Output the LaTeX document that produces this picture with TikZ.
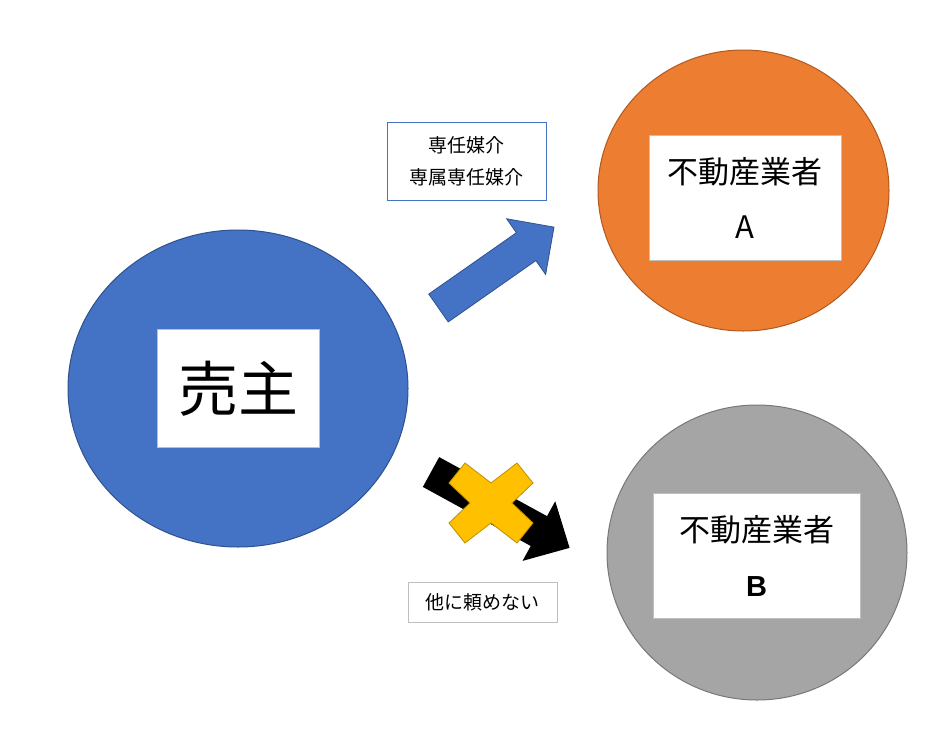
\documentclass[tikz,border=0pt]{standalone}
\usepackage{fontspec}
\setmainfont{Noto Sans CJK JP}
\newfontfamily\latinfont{Liberation Sans}
\usetikzlibrary{shapes.geometric}
\definecolor{SellerBlue}{HTML}{4472C4}
\definecolor{SellerEdge}{HTML}{2F528F}
\definecolor{AgentOrange}{HTML}{ED7D31}
\definecolor{OrangeEdge}{HTML}{AE5A21}
\definecolor{AgentGray}{HTML}{A5A5A5}
\definecolor{GrayEdge}{HTML}{787878}
\definecolor{CrossYellow}{HTML}{FFC000}
\definecolor{CrossEdge}{HTML}{BF9000}
\definecolor{BoxGray}{HTML}{BFBFBF}
\begin{document}
\begin{tikzpicture}[x=1pt, y=-1pt,
    party/.style={ellipse, line width=1pt, inner sep=0pt},
    namebox/.style={draw=BoxGray, fill=white, line width=0.8pt, align=center, inner sep=0pt},
    notebox/.style={fill=white, line width=0.8pt, align=center, inner sep=0pt, font=\fontsize{19}{32}\selectfont},
    blockarrow/.style={line width=0.8pt, line join=miter}
]
\path[use as bounding box, fill=white] (0,0) rectangle (951,737);
\node[party, fill=SellerBlue, draw=SellerEdge, minimum width=340, minimum height=317] (seller) at (238,388.5) {};
\node[party, fill=AgentOrange, draw=OrangeEdge, minimum width=291, minimum height=281] (agentA) at (743.5,190.5) {};
\node[party, fill=AgentGray, draw=GrayEdge, minimum width=300, minimum height=295] (agentB) at (757,552.5) {};
\node[namebox, minimum width=162, minimum height=118, font=\fontsize{60}{62}\selectfont] (sellerbox) at (seller) {売主};
\node[namebox, minimum width=192, minimum height=125, font=\fontsize{31}{55}\selectfont] (boxA) at (745,197.5) {不動産業者\\A};
\node[namebox, minimum width=207, minimum height=125, font=\fontsize{31}{55}\selectfont] (boxB) at (756.5,555.5) {不動産業者\\{\latinfont\fontsize{29}{55}\selectfont\bfseries B}};
\node[notebox, draw=SellerBlue, minimum width=159, minimum height=78] (exclusive) at (466.5,161) {専任媒介\\専属専任媒介};
\node[notebox, draw=BoxGray, minimum width=149, minimum height=40] (nootherbox) at (482.5,602) {他に頼めない};
\begin{scope}[shift={(438.5,308)}, rotate=35]
  \draw[blockarrow, fill=SellerBlue, draw=SellerEdge] (0,-17) -- (107,-17) -- (107,-34) -- (141,0) -- (107,34) -- (107,17) -- (0,17) -- cycle;
\end{scope}
\begin{scope}[shift={(431,472)}, rotate=-28.7]
  \fill[black] (0,-17) -- (123,-17) -- (123,-34) -- (158,0) -- (123,34) -- (123,17) -- (0,17) -- cycle;
\end{scope}
\begin{scope}[shift={(491,503)}]
  \draw[blockarrow, fill=CrossYellow, draw=CrossEdge] (0,-20) -- (26,-40) -- (42,-20) -- (21,0) -- (42,20) -- (26,40) -- (0,20) -- (-26,40) -- (-42,20) -- (-21,0) -- (-42,-20) -- (-26,-40) -- cycle;
\end{scope}
\end{tikzpicture}
\end{document}
